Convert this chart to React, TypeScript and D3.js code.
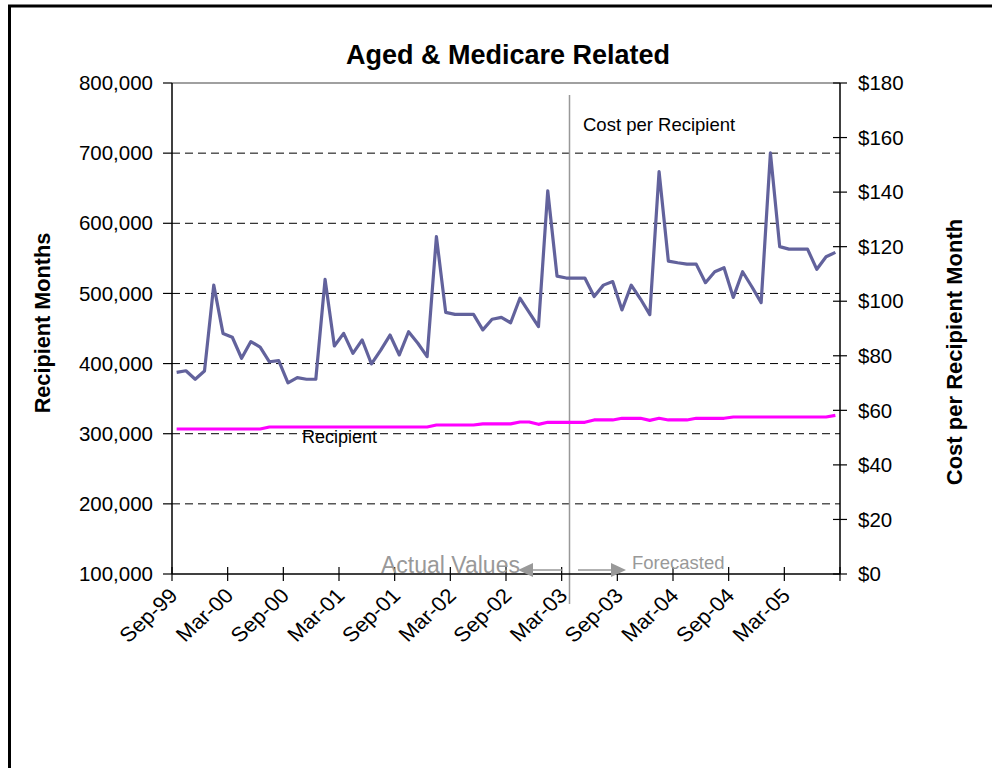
import React from 'react';
import * as d3 from 'd3';

// Monthly values, Sep-99 .. Aug-05 (72 months)
const costPerRecipient = [
  73.9, 74.5, 71.4, 74.4, 105.9, 88.2, 86.8, 79.1, 85.2, 83.2, 77.8, 78.2,
  70.1, 72.0, 71.4, 71.4, 108.0, 83.6, 88.2, 80.9, 85.8, 77.0, 82.1, 87.6,
  80.3, 88.8, 84.6, 79.7, 123.7, 95.9, 95.2, 95.2, 95.2, 89.5, 93.4, 94.1,
  92.1, 101.1, 95.9, 90.7, 140.5, 109.2, 108.5, 108.5, 108.5, 101.7, 105.9, 107.2,
  96.8, 105.9, 100.8, 95.1, 147.5, 114.7, 114.1, 113.6, 113.6, 106.8, 110.8, 112.3,
  101.4, 110.8, 105.3, 99.5, 154.4, 120.0, 119.1, 119.1, 119.1, 111.7, 116.3, 117.9,
];

const recipients = [
  306700, 306700, 306700, 306700, 306700, 306700, 306700, 306700, 306700, 306700, 309600, 309600,
  309600, 309600, 309600, 309600, 309600, 309600, 309600, 309600, 309600, 309600, 309600, 309600,
  309600, 309600, 309600, 309600, 312400, 312400, 312400, 312400, 312400, 314000, 314000, 314000,
  314000, 316700, 316700, 313400, 316300, 316300, 316300, 316300, 316300, 319600, 319600, 319600,
  322000, 322000, 322000, 319100, 322000, 319600, 319600, 319600, 322000, 322000, 322000, 322000,
  323800, 323800, 323800, 323800, 323800, 323800, 323800, 323800, 323800, 323800, 323800, 326200,
];

const tickLabels = [
  'Sep-99', 'Mar-00', 'Sep-00', 'Mar-01', 'Sep-01', 'Mar-02',
  'Sep-02', 'Mar-03', 'Sep-03', 'Mar-04', 'Sep-04', 'Mar-05',
];
const leftTicks = [100000, 200000, 300000, 400000, 500000, 600000, 700000, 800000];
const rightTicks = [0, 20, 40, 60, 80, 100, 120, 140, 160, 180];
const gridTicks = [200000, 300000, 400000, 500000, 600000, 700000];

const FONT = 'Liberation Sans, Arial, Helvetica, sans-serif';

export default function App() {
  const left = 172, right = 840, top = 83, bottom = 574;
  const n = costPerRecipient.length;
  const x = d3.scaleBand<number>().domain(d3.range(n)).range([left, right]).padding(0);
  const cx = (i: number) => (x(i) as number) + x.bandwidth() / 2;
  const yL = d3.scaleLinear().domain([100000, 800000]).range([bottom, top]);
  const yR = d3.scaleLinear().domain([0, 180]).range([bottom, top]);

  const costLine = d3.line<number>().x((_, i) => cx(i)).y((d) => yR(d))(costPerRecipient) as string;
  const recLine = d3.line<number>().x((_, i) => cx(i)).y((d) => yL(d))(recipients) as string;

  const xTickIdx = d3.range(0, n + 1, 6);
  const xTickPos = (i: number) => (i >= n ? right : (x(i) as number));
  const fmtL = d3.format(',');

  return (
    <svg
      width={992}
      height={768}
      style={{ position: 'absolute', left: 0, top: 0, background: '#fff' }}
      fontFamily={FONT}
    >
      <rect x={0} y={0} width={992} height={768} fill="#fff" />
      <rect x={9.5} y={6} width={1000} height={800} fill="none" stroke="#000" strokeWidth={3} />

      <text x={508} y={64} textAnchor="middle" fontSize={27} fontWeight="bold">
        Aged &amp; Medicare Related
      </text>

      {/* grid */}
      {gridTicks.map((t) => (
        <line key={t} x1={left} x2={right} y1={yL(t)} y2={yL(t)} stroke="#000" strokeWidth={1} strokeDasharray="8,5" />
      ))}
      <line x1={left} x2={right} y1={top} y2={top} stroke="#808080" strokeWidth={1.5} />

      {/* divider */}
      <line x1={569.5} x2={569.5} y1={95} y2={604} stroke="#999" strokeWidth={1.5} />

      {/* axes */}
      <line x1={left} x2={left} y1={top} y2={bottom} stroke="#000" strokeWidth={1.5} />
      <line x1={right} x2={right} y1={top} y2={bottom} stroke="#000" strokeWidth={1.5} />
      <line x1={left} x2={right} y1={bottom} y2={bottom} stroke="#000" strokeWidth={1.5} />

      {leftTicks.map((t) => (
        <g key={t}>
          <line x1={left - 9} x2={left} y1={yL(t)} y2={yL(t)} stroke="#000" strokeWidth={1.2} />
          <text x={153} y={yL(t)} dy="0.35em" textAnchor="end" fontSize={20.5}>
            {fmtL(t)}
          </text>
        </g>
      ))}
      {rightTicks.map((t) => (
        <g key={t}>
          <line x1={right - 7} x2={right + 7} y1={yR(t)} y2={yR(t)} stroke="#000" strokeWidth={1.2} />
          <text x={858} y={yR(t)} dy="0.35em" textAnchor="start" fontSize={20.5}>
            {'$' + t}
          </text>
        </g>
      ))}
      {xTickIdx.map((i) => (
        <line key={i} x1={xTickPos(i)} x2={xTickPos(i)} y1={bottom - 7} y2={bottom + 7} stroke="#000" strokeWidth={1.2} />
      ))}
      {tickLabels.map((lab, k) => {
        const tx = xTickPos(k * 6) + 7;
        const ty = 597;
        return (
          <text
            key={lab}
            x={0}
            y={0}
            textAnchor="end"
            fontSize={20.5}
            transform={`translate(${tx} ${ty}) scale(1.08 1) rotate(-45)`}
          >
            {lab}
          </text>
        );
      })}

      {/* axis titles */}
      <text transform="translate(50 323) rotate(-90)" textAnchor="middle" fontSize={21.7} fontWeight="bold">
        Recipient Months
      </text>
      <text transform="translate(962 352) rotate(-90)" textAnchor="middle" fontSize={22} fontWeight="bold">
        Cost per Recipient Month
      </text>

      {/* series */}
      <path d={recLine} fill="none" stroke="#FF00FF" strokeWidth={3.2} strokeLinejoin="round" />
      <path d={costLine} fill="none" stroke="#62629C" strokeWidth={3.2} strokeLinejoin="round" />

      {/* annotations */}
      <text x={583} y={131} fontSize={18.5}>Cost per Recipient</text>
      <text x={302} y={443} fontSize={18}>Recipient</text>
      <text x={381} y={573} fontSize={23} fill="#999">Actual Values</text>
      <text x={632} y={569} fontSize={18.5} fill="#999">Forecasted</text>

      {/* arrows */}
      <line x1={562} x2={530} y1={570} y2={570} stroke="#999" strokeWidth={1.5} />
      <path d="M518,570 L533,563 L533,577 Z" fill="#999" />
      <line x1={578} x2={612} y1={570} y2={570} stroke="#999" strokeWidth={1.5} />
      <path d="M626,570 L611,563 L611,577 Z" fill="#999" />
    </svg>
  );
}
